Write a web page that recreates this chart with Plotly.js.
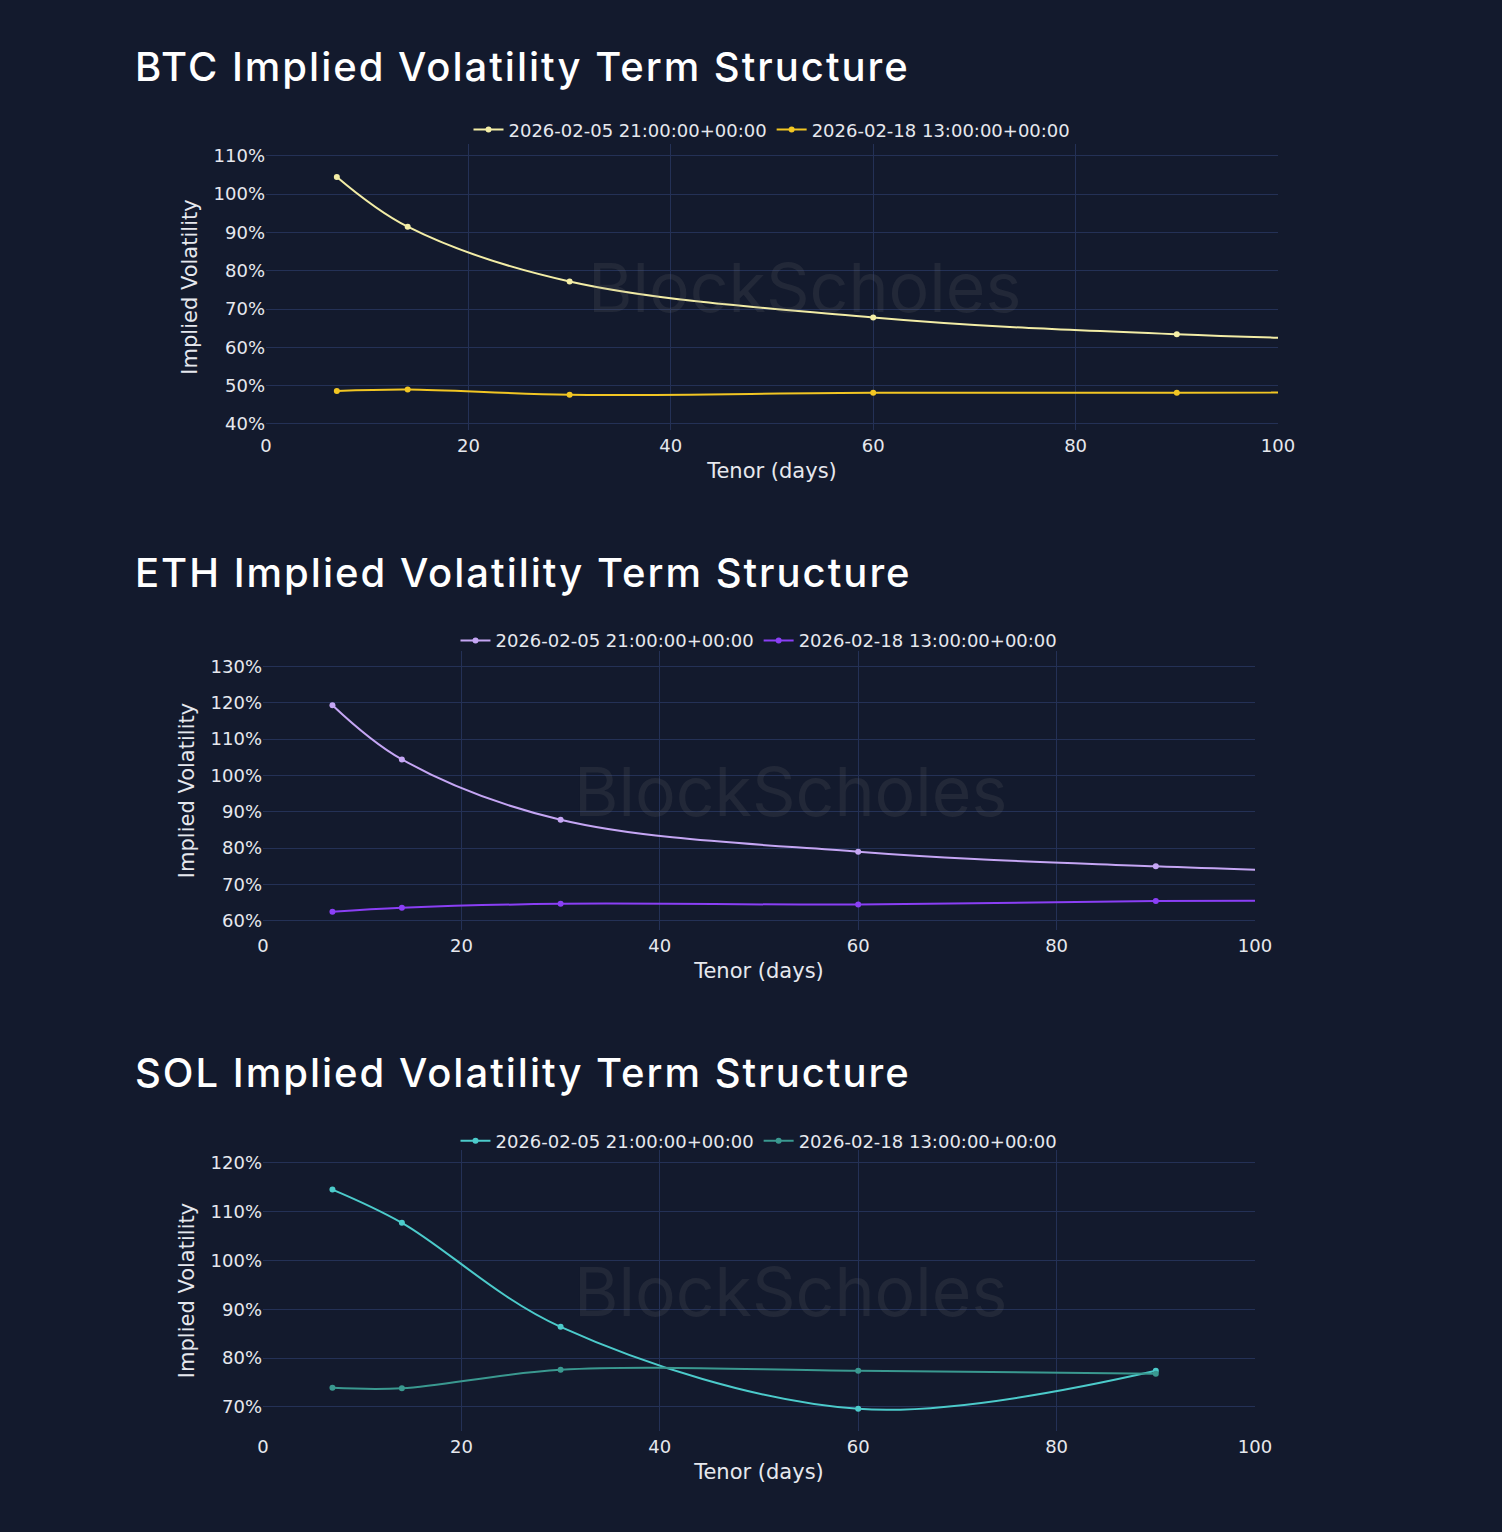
<!DOCTYPE html>
<html>
<head>
<meta charset="utf-8">
<script src="https://cdn.plot.ly/plotly-3.0.1.min.js"></script>
<style>
  html, body { margin: 0; padding: 0; background: #131a2d; }
  body { width: 1502px; height: 1532px; position: relative; overflow: hidden; }
  h2 {
    position: absolute; left: 135px; margin: 0;
    font-family: Inter, 'Noto Sans', sans-serif; font-weight: 500;
    font-size: 40px; letter-spacing: 2.0px; color: #ffffff; line-height: 1;
  }
  .chart { position: absolute; left: 0; width: 1502px; height: 400px; }
</style>
</head>
<body>
<h2 style="top:47px">BTC Implied Volatility Term Structure</h2>
<h2 style="top:553px">ETH Implied Volatility Term Structure</h2>
<h2 style="top:1053px">SOL Implied Volatility Term Structure</h2>
<div id="btc" class="chart" style="top:100px"></div>
<div id="eth" class="chart" style="top:600px"></div>
<div id="sol" class="chart" style="top:1100px"></div>
<script>
// snapshot labels
var dateA = '2026-02-05 21:00:00+00:00';
var dateB = '2026-02-18 13:00:00+00:00';

// tenors (days)
var tenorsLong = [7, 14, 30, 60, 90, 180];
var tenorsSol = [7, 14, 30, 60, 90];

// implied vol, %
var btcA = [104.5, 91.5, 77.2, 67.8, 63.4, 57.6];
var btcB = [48.6, 49.0, 47.6, 48.1, 48.1, 49.2];
var ethA = [119.3, 104.4, 87.8, 79.0, 75.0, 68.0];
var ethB = [62.5, 63.6, 64.7, 64.5, 65.5, 65.6];
var solA = [114.5, 107.7, 86.4, 69.6, 77.4];
var solB = [73.9, 73.8, 77.6, 77.4, 76.8];

var gridColor = '#243156';
var textColor = '#e6e8ee';

function series(x, y, name, color) {
  return {
    x: x, y: y, name: name, type: 'scatter', mode: 'lines+markers',
    line: { color: color, width: 2, shape: 'spline' },
    marker: { color: color, size: 6 }
  };
}

function makeLayout(yRange, margin, legendY) {
  return {
    width: 1502, height: 400,
    margin: margin,
    paper_bgcolor: 'rgba(0,0,0,0)',
    plot_bgcolor: 'rgba(0,0,0,0)',
    font: { family: 'DejaVu Sans, Verdana, sans-serif', color: textColor, size: 18 },
    showlegend: true,
    legend: {
      orientation: 'h', x: 0.5, xanchor: 'center', y: legendY, yanchor: 'middle',
      font: { size: 18, color: textColor }, bgcolor: 'rgba(0,0,0,0)'
    },
    xaxis: {
      range: [0, 100], dtick: 20, gridcolor: gridColor, zeroline: false,
      showline: false, tickfont: { size: 18 }, ticklabelstandoff: 3,
      title: { text: 'Tenor (days)', font: { size: 21 }, standoff: 8 }
    },
    yaxis: {
      range: yRange, dtick: 10, ticksuffix: '%', gridcolor: gridColor,
      zeroline: false, showline: false, tickfont: { size: 18 },
      title: { text: 'Implied Volatility', font: { size: 21 }, standoff: 10 }
    },
    annotations: [{
      text: 'BlockScholes', xref: 'paper', yref: 'paper', x: 0.532, y: 0.5,
      xanchor: 'center', yanchor: 'middle', showarrow: false,
      font: { family: 'Inter, sans-serif', size: 68, color: 'rgba(120,120,120,0.15)' }
    }]
  };
}

var config = { displayModeBar: false, staticPlot: true };

Plotly.newPlot('btc', [
  series(tenorsLong, btcA, dateA, '#f3eda6'),
  series(tenorsLong, btcB, dateB, '#f2c623')
], makeLayout([38.4, 113.1], { l: 266, r: 224, t: 43, b: 70 }, 1.046), config);

Plotly.newPlot('eth', [
  series(tenorsLong, ethA, dateA, '#c5a6f4'),
  series(tenorsLong, ethB, dateB, '#8a3ff5')
], makeLayout([57.5, 134.2], { l: 263, r: 247, t: 51, b: 70 }, 1.037), config);

Plotly.newPlot('sol', [
  series(tenorsSol, solA, dateA, '#4ccbcb'),
  series(tenorsSol, solB, dateB, '#3a9990')
], makeLayout([65.07, 122.6], { l: 263, r: 247, t: 50, b: 69 }, 1.032), config);
</script>
</body>
</html>
